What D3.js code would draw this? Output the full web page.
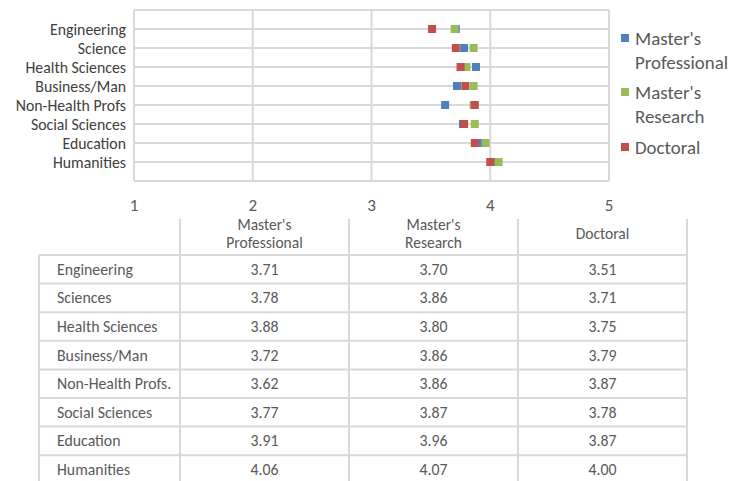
<!DOCTYPE html>
<html><head><meta charset="utf-8">
<script src="https://cdn.jsdelivr.net/npm/d3@7"></script>
<style>body{margin:0;background:#fff;}svg{display:block;font-family:Carlito,Calibri,Lato,sans-serif;}</style>
</head><body><div id="chart"></div>
<script>
const categories = ["Engineering","Science","Health Sciences","Business/Man","Non-Health Profs","Social Sciences","Education","Humanities"];
const tableLabels = ["Engineering","Sciences","Health Sciences","Business/Man","Non-Health Profs.","Social Sciences","Education","Humanities"];
const seriesNames = ["Master's Professional","Master's Research","Doctoral"];
const mastersProfessional = [3.71,3.78,3.88,3.72,3.62,3.77,3.91,4.06];
const mastersResearch    = [3.70,3.86,3.80,3.86,3.86,3.87,3.96,4.07];
const doctoral           = [3.51,3.71,3.75,3.79,3.87,3.78,3.87,4.00];
const xTicks = [1,2,3,4,5];
const colors = ["#4f81bd","#9bbb59","#c0504d"];
const series = [mastersProfessional, mastersResearch, doctoral];

const W = 744, H = 481;
const svg = d3.select("#chart").append("svg").attr("width", W).attr("height", H);

const x = d3.scaleLinear().domain([1,5]).range([134,609]);
const y = d3.scaleLinear().domain([0,9]).range([181,10]);
const grid = "#d9d9d9";

// plot gridlines
const g = svg.append("g");
g.selectAll("line.v").data(xTicks).join("line")
  .attr("x1", d=>x(d)).attr("x2", d=>x(d)).attr("y1", y(9)).attr("y2", y(0))
  .attr("stroke", grid).attr("stroke-width", 2);
g.selectAll("line.h").data(d3.range(0,10)).join("line")
  .attr("x1", x(1)).attr("x2", x(5)).attr("y1", d=>y(d)).attr("y2", d=>y(d))
  .attr("stroke", grid).attr("stroke-width", 2);

// y labels
g.selectAll("text.cat").data(categories).join("text")
  .attr("x", 126).attr("y", (d,i)=>y(8-i)).attr("dy","0.35em")
  .attr("text-anchor","end").attr("font-size", 15.8).attr("fill","#404040").text(d=>d);

// x tick labels
g.selectAll("text.xt").data(xTicks).join("text")
  .attr("x", d=>x(d)).attr("y", 205).attr("dy","0.35em")
  .attr("text-anchor","middle").attr("font-size", 17).attr("fill","#595959").text(d=>d);

// markers
const ms = 8;
series.forEach((vals, si) => {
  g.append("g").selectAll("rect").data(vals).join("rect")
    .attr("x", d=>x(d)-ms/2).attr("y", (d,i)=>y(8-i)-ms/2)
    .attr("width", ms).attr("height", ms).attr("fill", colors[si]);
});

// legend
const legendItems = [["Master's","Professional"],["Master's","Research"],["Doctoral"]];
const legY = [38, 92, 147];
legendItems.forEach((lines, i) => {
  svg.append("rect").attr("x", 621).attr("y", legY[i]-4).attr("width", 8).attr("height", 8).attr("fill", colors[i]);
  lines.forEach((t, j) => {
    svg.append("text").attr("x", 635).attr("y", legY[i] + j*24).attr("dy","0.35em")
      .attr("font-size", 18.9).attr("fill","#595959").text(t);
  });
});

// table
const colX = [39,180,349,518,687];
const rowTop = 255, rowH = 28.6;
const tg = svg.append("g");
const headers = [["Master's","Professional"],["Master's","Research"],["Doctoral"]];
[180,349,518,687].forEach(cx => {
  tg.append("line").attr("x1",cx).attr("x2",cx).attr("y1",219).attr("y2",H).attr("stroke",grid).attr("stroke-width",2);
});
tg.append("line").attr("x1",39).attr("x2",39).attr("y1",rowTop).attr("y2",H).attr("stroke",grid).attr("stroke-width",2);
d3.range(0, tableLabels.length).forEach(r => {
  tg.append("line").attr("x1",39).attr("x2",687).attr("y1",rowTop + r*rowH).attr("y2",rowTop + r*rowH)
    .attr("stroke",grid).attr("stroke-width",2);
});
headers.forEach((lines, c) => {
  const cx = (colX[c+1]+colX[c+2])/2;
  lines.forEach((t, j) => {
    const cy = lines.length === 2 ? 225 + j*18 : 234;
    tg.append("text").attr("x", cx).attr("y", cy).attr("dy","0.35em").attr("text-anchor","middle")
      .attr("font-size", 15.5).attr("fill","#595959").text(t);
  });
});
tableLabels.forEach((lab, r) => {
  const cy = rowTop + r*rowH + rowH/2;
  tg.append("text").attr("x", 57).attr("y", cy).attr("dy","0.35em").attr("font-size",15.8)
    .attr("fill","#595959").text(lab);
  series.forEach((vals, c) => {
    tg.append("text").attr("x", (colX[c+1]+colX[c+2])/2).attr("y", cy).attr("dy","0.35em")
      .attr("text-anchor","middle").attr("font-size",15.8).attr("fill","#595959").text(vals[r].toFixed(2));
  });
});
</script></body></html>
